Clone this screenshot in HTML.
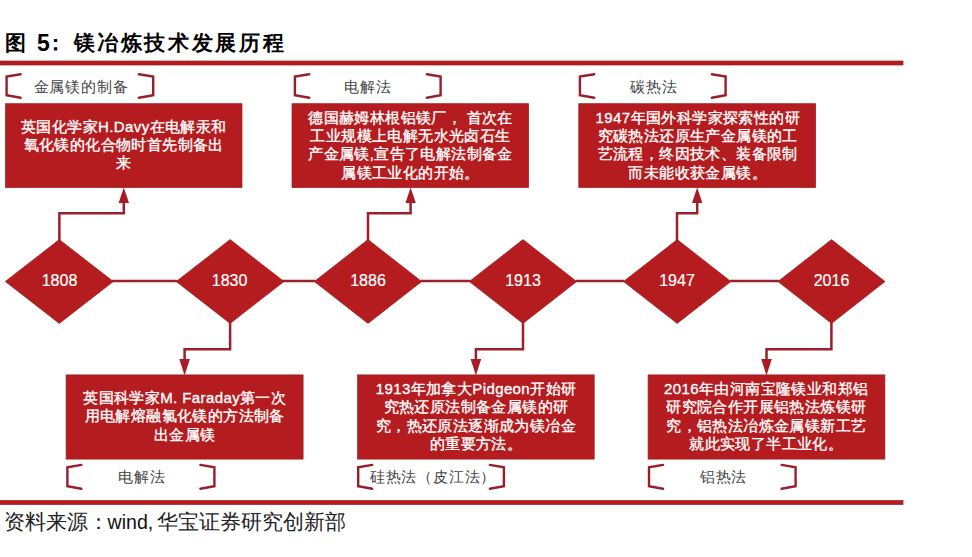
<!DOCTYPE html>
<html><head><meta charset="utf-8">
<style>
html,body{margin:0;padding:0;background:#fff;}
body{width:972px;height:557px;position:relative;overflow:hidden;font-family:"Liberation Sans",sans-serif;}
.abs{position:absolute;}
svg{position:absolute;left:0;top:0;}
.title{position:absolute;top:30px;font-family:"Liberation Serif",serif;font-weight:bold;font-size:21px;line-height:26px;color:#000;white-space:nowrap;letter-spacing:2.65px;}
.src{position:absolute;top:509px;font-family:"Liberation Serif",serif;font-size:21px;line-height:26px;color:#222;white-space:nowrap;}
.src.w{font-family:"Liberation Sans",sans-serif;color:#111;}
.bt{position:absolute;color:#fff;-webkit-text-stroke:0.35px #fff;font-size:15px;letter-spacing:0.4px;line-height:18.4px;text-align:center;white-space:nowrap;}
.bt div{height:18.4px;}
.lab{position:absolute;color:#444;font-size:15px;letter-spacing:0.8px;line-height:20px;text-align:center;white-space:nowrap;width:146px;}
.yr{position:absolute;color:#fff;-webkit-text-stroke:0.2px #fff;font-size:16px;line-height:20px;text-align:center;width:80px;}
</style></head>
<body>
<div class="title" style="left:5px;">图</div><div class="title" style="left:37px;font-family:'Liberation Sans',sans-serif;font-size:23px;">5</div><div class="title" style="left:44.5px;">：</div><div class="title" style="left:73.5px;">镁冶炼技术发展历程</div>

<svg width="972" height="557" viewBox="0 0 972 557">
  <g fill="#b51c1f" stroke="#9e1a1e" stroke-width="0.7">
    <rect x="0" y="61" width="903" height="4"/>
    <rect x="0" y="500.5" width="903" height="4"/>
    <!-- top boxes -->
    <rect x="5.5" y="103.7" width="236.5" height="83.9"/>
    <rect x="292" y="103.7" width="236.6" height="83.9"/>
    <rect x="578.8" y="103.7" width="236.8" height="83.9"/>
    <!-- bottom boxes -->
    <rect x="66.1" y="374.9" width="237" height="84.2"/>
    <rect x="357.6" y="374.9" width="236.6" height="84.2"/>
    <rect x="648.1" y="374.9" width="236.8" height="84.2"/>
    <!-- diamonds -->
    <polygon points="5.3,281.5 59.3,239.6 113.3,281.5 59.3,323.4"/>
    <polygon points="176.2,281.5 230.1,239.6 284,281.5 230.1,323.4"/>
    <polygon points="314.3,281.5 368,239.6 421.7,281.5 368,323.4"/>
    <polygon points="469.3,281.5 523,239.6 576.7,281.5 523,323.4"/>
    <polygon points="623.5,281.5 677.2,239.6 730.9,281.5 677.2,323.4"/>
    <polygon points="778,281.5 831.5,239.6 885,281.5 831.5,323.4"/>
  </g>
  <g fill="#a81c24">
    <!-- arrowheads up -->
    <polygon points="118.6,203 123.8,187.5 129,203"/>
    <polygon points="405.5,203 410.6,187.5 415.9,203"/>
    <polygon points="692,203 697.2,187.5 702.4,203"/>
    <!-- arrowheads down -->
    <polygon points="179.3,359 184.6,375.5 189.9,359"/>
    <polygon points="470.6,359 475.9,375.5 481.2,359"/>
    <polygon points="761.2,359 766.5,375.5 771.8,359"/>
  </g>
  <g fill="none" stroke="#9c1f29" stroke-width="2.5">
    <line x1="112" y1="281.1" x2="177" y2="281.1"/>
    <line x1="282" y1="281.1" x2="315" y2="281.1"/>
    <line x1="421" y1="281.1" x2="470" y2="281.1"/>
    <line x1="576" y1="281.1" x2="624" y2="281.1"/>
    <line x1="730" y1="281.1" x2="779" y2="281.1"/>
    <polyline points="59.4,241 59.4,213.3 123.8,213.3 123.8,200"/>
    <polyline points="368,241 368,213.3 410.6,213.3 410.6,200"/>
    <polyline points="677,241 677,213.3 697.2,213.3 697.2,200"/>
    <polyline points="230.1,322 230.1,349.3 184.6,349.3 184.6,362"/>
    <polyline points="523,322 523,349.3 475.9,349.3 475.9,362"/>
    <polyline points="831.4,322 831.4,349.3 766.5,349.3 766.5,362"/>
  </g>
  <!-- brackets -->
  <g fill="none" stroke="#981e28" stroke-width="2.4" stroke-linejoin="miter" stroke-linecap="round">
    <polyline points="20.6,74.2 6.6,76.6 6.6,95.3 20.6,97.7"/>
    <polyline points="138.9,74.2 153.2,76.6 153.2,95.3 138.9,97.7"/>
    <polyline points="309.2,74.2 294.9,76.6 294.9,95.3 309.2,97.7"/>
    <polyline points="426.9,74.2 440.6,76.6 440.6,95.3 426.9,97.7"/>
    <polyline points="594.2,74.2 579.9,76.6 579.9,95.3 594.2,97.7"/>
    <polyline points="711.9,74.2 725.6,76.6 725.6,95.3 711.9,97.7"/>

    <polyline points="81.4,464.9 67.4,467.3 67.4,486.3 81.4,488.7"/>
    <polyline points="200.4,464.9 214.4,467.3 214.4,486.3 200.4,488.7"/>
    <polyline points="372.2,464.9 358.2,467.3 358.2,486.3 372.2,488.7"/>
    <polyline points="489.9,464.9 503.9,467.3 503.9,486.3 489.9,488.7"/>
    <polyline points="663,464.9 649,467.3 649,486.3 663,488.7"/>
    <polyline points="781.6,464.9 795.6,467.3 795.6,486.3 781.6,488.7"/>
  </g>
</svg>

<!-- labels -->
<div class="lab" style="left:8px;top:77px;">金属镁的制备</div>
<div class="lab" style="left:294.8px;top:77px;">电解法</div>
<div class="lab" style="left:580.8px;top:77px;">碳热法</div>
<div class="lab" style="left:68.8px;top:467px;">电解法</div>
<div class="lab" style="left:360px;top:467px;">硅热法（皮江法）</div>
<div class="lab" style="left:650.5px;top:467px;">铝热法</div>

<!-- years -->
<div class="yr" style="left:19.5px;top:271px;">1808</div>
<div class="yr" style="left:189.6px;top:271px;">1830</div>
<div class="yr" style="left:328px;top:271px;">1886</div>
<div class="yr" style="left:483px;top:271px;">1913</div>
<div class="yr" style="left:637px;top:271px;">1947</div>
<div class="yr" style="left:791.5px;top:271px;">2016</div>

<!-- box texts -->
<div class="bt" style="left:6px;width:235.5px;top:117.5px;">
  <div>英国化学家H.Davy在电解汞和</div>
  <div>氧化镁的化合物时首先制备出</div>
  <div>来</div>
</div>
<div class="bt" style="left:293px;width:235px;top:108.5px;">
  <div>德国赫姆林根铝镁厂， 首次在</div>
  <div>工业规模上电解无水光卤石生</div>
  <div>产金属镁,宣告了电解法制备金</div>
  <div>属镁工业化的开始。</div>
</div>
<div class="bt" style="left:580px;width:235.5px;top:108.5px;">
  <div>1947年国外科学家探索性的研</div>
  <div>究碳热法还原生产金属镁的工</div>
  <div>艺流程，终因技术、装备限制</div>
  <div>而未能收获金属镁。</div>
</div>
<div class="bt" style="left:67px;width:235.5px;top:389px;">
  <div>英国科学家M. Faraday第一次</div>
  <div>用电解熔融氯化镁的方法制备</div>
  <div>出金属镁</div>
</div>
<div class="bt" style="left:358px;width:236px;top:380px;">
  <div>1913年加拿大Pidgeon开始研</div>
  <div>究热还原法制备金属镁的研</div>
  <div>究，热还原法逐渐成为镁冶金</div>
  <div>的重要方法。</div>
</div>
<div class="bt" style="left:648px;width:236.5px;top:380px;">
  <div>2016年由河南宝隆镁业和郑铝</div>
  <div>研究院合作开展铝热法炼镁研</div>
  <div>究，铝热法冶炼金属镁新工艺</div>
  <div>就此实现了半工业化。</div>
</div>

<div class="src" style="left:3.5px;">资料来源：</div><div class="src w" style="left:107.5px;font-size:19.6px;">wind,</div><div class="src" style="left:156.5px;">华宝证券研究创新部</div>
</body></html>
